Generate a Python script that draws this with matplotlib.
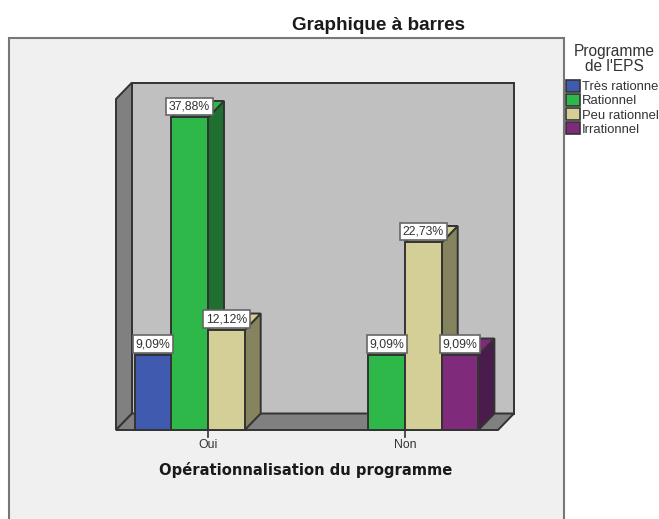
import matplotlib
matplotlib.use('Agg')
import matplotlib.pyplot as plt
from matplotlib.patches import Polygon, Rectangle, Patch

# Donnees
groupes = ['Oui', 'Non']
noms_legende = ['Très rationne', 'Rationnel', 'Peu rationnel', 'Irrationnel']
valeurs_oui = [9.09, 37.88, 12.12, None]
valeurs_non = [None, 9.09, 22.73, 9.09]
couleurs = ['#3f5aae', '#2fb84a', '#d3cf96', '#7f2a7b']
couleurs_cote = ['#27386d', '#1f6f30', '#86845f', '#4a1c4e']

W, H = 659, 519
plt.rcParams['font.family'] = ['Liberation Sans', 'DejaVu Sans']
fig = plt.figure(figsize=(W / 100, H / 100), dpi=100, facecolor='white')

# Cadre gris clair (ouvert en bas, il sort de l'image)
fig.add_artist(Rectangle((9 / W, -0.02), 555 / W, (H - 38) / H + 0.02,
                         transform=fig.transFigure, facecolor='#f0f0f0',
                         edgecolor='#777777', linewidth=1.5, zorder=-1))

ax = fig.add_axes([116 / W, (H - 430) / H, 382 / W, 331 / H])
px_x = 197.0   # pixels par groupe
px_y = 8.25    # pixels par %
x0 = (116 - 208) / px_x
x1 = (498 - 208) / px_x
ymax = 331 / px_y
ax.set_xlim(x0, x1)
ax.set_ylim(0, ymax)
ax.axis('off')

dx = 16 / px_x
dy = 16.5 / px_y
largeur = 36.7 / px_x
bord = '#333333'


def poly(pts, fc, z=1, lw=1.4):
    ax.add_patch(Polygon(pts, closed=True, facecolor=fc, edgecolor=bord,
                         linewidth=lw, zorder=z, clip_on=False))


# Murs et sol
poly([(x0 + dx, dy), (x1 + dx, dy), (x1 + dx, ymax + dy), (x0 + dx, ymax + dy)], '#c0c0c0')
poly([(x0, 0), (x0 + dx, dy), (x0 + dx, ymax + dy), (x0, ymax)], '#808080')
poly([(x0, 0), (x1, 0), (x1 + dx, dy), (x0 + dx, dy)], '#808080')

# Barres, de l'arriere vers l'avant
for g, vals in enumerate([valeurs_oui, valeurs_non]):
    for i, v in enumerate(vals):
        if v is None:
            continue
        xc = g + (i - 1.5) * largeur
        g_, d_ = xc - largeur / 2, xc + largeur / 2
        poly([(d_, 0), (d_ + dx, dy), (d_ + dx, v + dy), (d_, v)], couleurs_cote[i], 2)
        poly([(g_, v), (d_, v), (d_ + dx, v + dy), (g_ + dx, v + dy)], couleurs[i], 2)
        ax.bar(xc, v, width=largeur, color=couleurs[i], edgecolor=bord,
               linewidth=1.4, zorder=3, clip_on=False)

# Etiquettes de valeur
for g, vals in enumerate([valeurs_oui, valeurs_non]):
    for i, v in enumerate(vals):
        if v is None:
            continue
        xc = g + (i - 1.5) * largeur
        ax.annotate(f'{v:.2f}%'.replace('.', ','), (xc, v), xytext=(0, 3.5),
                    textcoords='offset points', ha='center', va='bottom',
                    fontsize=8.8, color='#333333', zorder=10,
                    bbox=dict(boxstyle='square,pad=0.22', fc='white', ec='#666666', lw=1.2))

# Graduations et noms de groupes
for g, nom in enumerate(groupes):
    ax.plot([g, g], [0, -7 / px_y], color=bord, lw=1.2, clip_on=False, zorder=6)
    ax.text(g, -15 / px_y, nom, ha='center', va='center', fontsize=8.8, color='#333333')

fig.text(306 / W, 1 - 470 / H, 'Opérationnalisation du programme', ha='center', va='center',
         fontsize=10.6, fontweight='bold', family='DejaVu Sans', color='#1a1a1a')
fig.text(378 / W, 1 - 26 / H, 'Graphique à barres', ha='center', va='center',
         fontsize=13.6, fontweight='bold', color='#1a1a1a')

# Legende
fig.text(614 / W, 1 - 59 / H, "Programme\nde l'EPS", ha='center', va='center', ma='center',
         fontsize=11.2, linespacing=0.95, color='#333333')
poignees = [Patch(facecolor=c, edgecolor=bord, linewidth=1.2) for c in couleurs]
leg = fig.legend(poignees, noms_legende,
                 loc='upper left', bbox_to_anchor=(566 / W, 1 - 80 / H), frameon=False,
                 fontsize=9.4, handlelength=1.05, handleheight=1.0,
                 handletextpad=0.15, labelspacing=0.06, borderpad=0, borderaxespad=0)
for t in leg.get_texts():
    t.set_color('#333333')

fig.savefig('out.png', dpi=100)
